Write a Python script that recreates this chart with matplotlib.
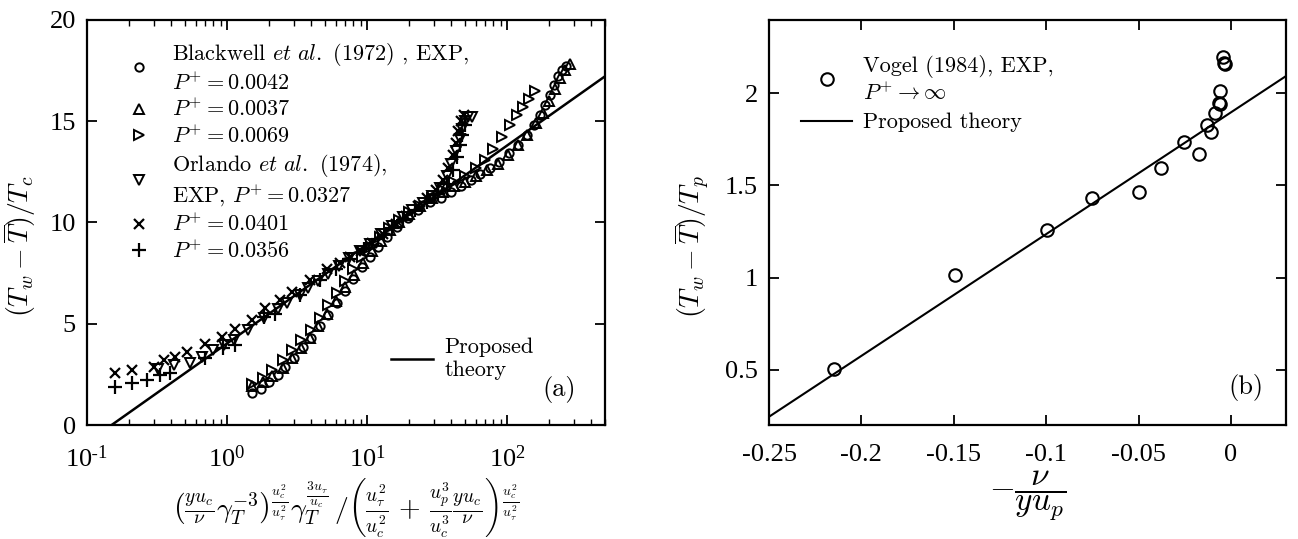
import math
import matplotlib
matplotlib.use("Agg")
import matplotlib.pyplot as plt
from matplotlib.ticker import FuncFormatter, LogLocator, NullFormatter, MultipleLocator
from matplotlib.font_manager import FontProperties

plt.rcParams.update({
    "font.family": "Liberation Serif",
    "mathtext.fontset": "cm",
    "axes.unicode_minus": False,
    "xtick.direction": "in",
    "ytick.direction": "in",
    "xtick.top": True,
    "ytick.right": True,
    "axes.linewidth": 1.6,
    "xtick.major.width": 1.3,
    "ytick.major.width": 1.3,
    "xtick.minor.width": 1.0,
    "xtick.major.size": 7,
    "ytick.major.size": 7,
    "xtick.minor.size": 4,
})

# ---------------- panel (a): Blackwell et al. (1972) and Orlando et al. (1974)
bw42_x = [1.5, 1.75, 2.0, 2.3, 2.6, 3.0, 3.5, 4.0, 4.6, 5.3, 6.1, 7.0, 8.0, 9.2, 10.5, 12.0,
          14.0, 16.5, 19.5, 23, 28, 34, 40, 47, 55, 64, 75, 88, 103, 120, 138, 155, 172, 188,
          203, 218, 232, 248, 265]
bw42_y = [1.6, 1.8, 2.1, 2.45, 2.85, 3.3, 3.85, 4.3, 4.9, 5.45, 6.0, 6.6, 7.2, 7.8, 8.3, 8.8,
          9.3, 9.75, 10.2, 10.6, 11.0, 11.2, 11.5, 11.8, 12.1, 12.4, 12.7, 13.0, 13.4, 13.8,
          14.3, 14.8, 15.3, 15.8, 16.3, 16.8, 17.2, 17.5, 17.7]

bw37_x = [1.5, 1.8, 2.1, 2.5, 2.9, 3.4, 3.9, 4.5, 5.2, 6.0, 7.0, 8.1, 9.3, 10.8, 12.5, 14.5,
          17, 20, 24, 29, 35, 42, 50, 60, 72, 86, 102, 120, 140, 160, 180, 200, 220, 240, 260, 280]
bw37_y = [1.9, 2.1, 2.4, 2.8, 3.3, 3.8, 4.3, 4.9, 5.5, 6.1, 6.8, 7.4, 8.0, 8.6, 9.1, 9.6,
          10.0, 10.4, 10.8, 11.2, 11.5, 11.8, 12.0, 12.3, 12.6, 12.9, 13.3, 13.8, 14.3, 14.9,
          15.4, 16.0, 16.6, 17.1, 17.5, 17.8]

bw69_x = [1.5, 1.8, 2.1, 2.5, 2.9, 3.4, 4.0, 4.6, 5.3, 6.1, 7.0, 8.0, 9.2, 10.6, 12.3, 14.3,
          17, 20, 24, 29, 35, 42, 50, 60, 70, 80, 92, 105, 118, 130, 143, 158]
bw69_y = [2.0, 2.3, 2.7, 3.2, 3.7, 4.2, 4.7, 5.3, 5.9, 6.5, 7.1, 7.7, 8.3, 8.8, 9.3, 9.7,
          10.1, 10.5, 10.8, 11.2, 11.6, 12.0, 12.3, 12.7, 13.1, 13.6, 14.2, 14.8, 15.3, 15.7,
          16.1, 16.5]

or327_x = [0.32, 0.42, 0.54, 0.66, 0.80, 0.95, 1.12, 1.42, 1.85, 2.3, 2.7, 3.3, 3.8, 4.5, 5.3,
           6.3, 7.5, 8.9, 10.5, 12.5, 15, 18, 21, 25, 29, 33, 37, 40, 43, 46, 48, 50, 53, 56]
or327_y = [2.75, 2.95, 3.05, 3.35, 3.7, 3.95, 4.2, 4.7, 5.3, 5.7, 6.0, 6.4, 6.75, 7.1, 7.45,
           7.85, 8.25, 8.6, 8.95, 9.4, 9.8, 10.25, 10.6, 10.95, 11.3, 11.7, 12.3, 12.9, 13.5,
           14.1, 14.6, 15.0, 15.2, 15.2]

or401_x = [0.158, 0.209, 0.30, 0.355, 0.425, 0.52, 0.70, 0.92, 1.14, 1.5, 1.87, 2.4, 2.9, 3.9,
           5.15, 6.4, 7.6, 9.0, 10.8, 13, 16, 19, 23, 27, 31, 35, 38, 41, 43, 45, 47, 49]
or401_y = [2.55, 2.72, 2.85, 3.2, 3.37, 3.6, 4.0, 4.35, 4.76, 5.17, 5.75, 6.16, 6.57, 7.14,
           7.72, 8.0, 8.3, 8.6, 9.0, 9.4, 9.9, 10.3, 10.8, 11.2, 11.6, 12.1, 12.7, 13.3, 13.9,
           14.5, 15.0, 15.3]

or356_x = [0.158, 0.209, 0.27, 0.33, 0.39, 0.70, 0.94, 1.14, 1.85, 2.2, 3.32, 4.62, 6.0, 7.5,
           9.5, 12, 15, 18, 22, 27, 32, 37, 41, 44, 46, 48, 50]
or356_y = [1.89, 2.05, 2.22, 2.46, 2.55, 3.33, 3.78, 3.94, 5.34, 5.5, 6.4, 7.14, 7.7, 8.2,
           8.7, 9.2, 9.7, 10.1, 10.6, 11.0, 11.4, 11.9, 12.6, 13.2, 13.8, 14.3, 14.8]

theory_a_x = [0.15, 500]
theory_a_y = [0.0, 17.2]

# ---------------- panel (b): Vogel (1984)
vogel_x = [-0.2148, -0.1495, -0.0996, -0.0752, -0.0499, -0.0380, -0.0253, -0.0172, -0.0128,
           -0.0106, -0.0084, -0.0066, -0.0060, -0.0059, -0.0044, -0.0037, -0.0033]
vogel_y = [0.506, 1.016, 1.261, 1.434, 1.467, 1.597, 1.735, 1.673, 1.829, 1.792, 1.896,
           1.950, 1.940, 2.015, 2.195, 2.167, 2.158]

theory_b_x = [-0.25, 0.03]
theory_b_y = [0.245, 2.095]

fig = plt.figure(figsize=(12.98, 5.39), dpi=100)
ax1 = fig.add_axes([0.067, 0.2115, 0.399, 0.752])
ax2 = fig.add_axes([0.5925, 0.2115, 0.3985, 0.752])

leg_font = FontProperties(family="cmr10", size=16)
tag_font = FontProperties(family="cmr10", size=19)

mk = dict(linestyle="none", markerfacecolor="none", markeredgecolor="black", markeredgewidth=1.4)
h1, = ax1.plot(bw42_x, bw42_y, marker="o", markersize=6, **mk)
h2, = ax1.plot(bw37_x, bw37_y, marker="^", markersize=7.5, **mk)
h3, = ax1.plot(bw69_x, bw69_y, marker=">", markersize=7.5, **mk)
h4, = ax1.plot(or327_x, or327_y, marker="v", markersize=7.5, **mk)
h5, = ax1.plot(or401_x, or401_y, marker="x", markersize=7, linestyle="none", color="black", markeredgewidth=1.6)
h6, = ax1.plot(or356_x, or356_y, marker="+", markersize=10, linestyle="none", color="black", markeredgewidth=1.6)
ht, = ax1.plot(theory_a_x, theory_a_y, color="black", linewidth=1.8)

ax1.set_xscale("log")
ax1.set_xlim(0.1, 500)
ax1.set_ylim(0, 20)
ax1.set_yticks([0, 5, 10, 15, 20])
ax1.xaxis.set_major_locator(LogLocator(base=10, numticks=10))
ax1.xaxis.set_minor_locator(LogLocator(base=10, subs=range(2, 10), numticks=10))
ax1.xaxis.set_minor_formatter(NullFormatter())


def log_label(v, pos):
    e = int(round(math.log10(v)))
    if e < 0:
        return r"$\mathregular{10^{\text{-}%d}}$" % (-e)
    return r"$\mathregular{10^{%d}}$" % e


ax1.xaxis.set_major_formatter(FuncFormatter(log_label))
ax1.tick_params(axis="y", labelsize=19, pad=8)
ax1.tick_params(axis="x", labelsize=19, pad=15)
ax1.set_ylabel(r"$(T_w-\overline{T})/T_c$", fontsize=20)
ax1.yaxis.set_label_coords(-0.094, 0.44)
ax1.set_xlabel(r"$\left(\frac{y u_c}{\nu}\gamma_T^{-3}\right)^{\frac{u_c^2}{u_\tau^2}}"
               r"\gamma_T^{\frac{3u_\tau}{u_c}}\,/\left(\frac{u_\tau^2}{u_c^2}\,+\,"
               r"\frac{u_p^3}{u_c^3}\frac{y u_c}{\nu}\right)^{\frac{u_c^2}{u_\tau^2}}$",
               fontsize=20, labelpad=3)

lg1 = ax1.legend([h1, h2, h3, h4, h5, h6],
                 ["Blackwell $\\mathit{et\\ al.}$ (1972) , EXP,\n$P^{+}=0.0042$",
                  "$P^{+}=0.0037$", "$P^{+}=0.0069$",
                  "Orlando $\\mathit{et\\ al.}$ (1974),\nEXP, $P^{+}=0.0327$",
                  "$P^{+}=0.0401$", "$P^{+}=0.0356$"],
                 loc="upper left", bbox_to_anchor=(0.057, 0.97), frameon=False, prop=leg_font,
                 handlelength=1.2, handletextpad=0.9, labelspacing=0.2, borderaxespad=0)
ax1.add_artist(lg1)
ax1.legend([ht], ["Proposed\ntheory"], loc="lower left", bbox_to_anchor=(0.57, 0.09),
           frameon=False, prop=leg_font, handlelength=1.9, handletextpad=0.5, borderaxespad=0)
ax1.text(0.945, 0.055, "(a)", transform=ax1.transAxes, ha="right", va="bottom",
         fontproperties=tag_font)

# panel (b)
hv, = ax2.plot(vogel_x, vogel_y, marker="o", markersize=9, linestyle="none",
               markerfacecolor="none", markeredgecolor="black", markeredgewidth=1.5)
hb, = ax2.plot(theory_b_x, theory_b_y, color="black", linewidth=1.5)
ax2.set_xlim(-0.25, 0.03)
ax2.set_ylim(0.2, 2.4)
ax2.xaxis.set_major_locator(MultipleLocator(0.05))
ax2.set_yticks([0.5, 1.0, 1.5, 2.0])
ax2.xaxis.set_major_formatter(FuncFormatter(lambda v, p: "%g" % round(v, 3)))
ax2.yaxis.set_major_formatter(FuncFormatter(lambda v, p: "%g" % round(v, 3)))
ax2.tick_params(axis="y", labelsize=19, pad=8)
ax2.tick_params(axis="x", labelsize=19, pad=14)
ax2.set_ylabel(r"$(T_w-\overline{T})/T_p$", fontsize=20)
ax2.yaxis.set_label_coords(-0.11, 0.44)
ax2.set_xlabel(r"$-\dfrac{\nu}{y u_p}$", fontsize=24, labelpad=2)
ax2.legend([hv, hb], ["Vogel (1984), EXP,\n$P^{+}\\rightarrow\\infty$", "Proposed theory"],
           loc="upper left", bbox_to_anchor=(0.045, 0.935), frameon=False, prop=leg_font,
           handlelength=2.3, handletextpad=0.5, labelspacing=0.4, borderaxespad=0)
ax2.text(0.955, 0.06, "(b)", transform=ax2.transAxes, ha="right", va="bottom",
         fontproperties=tag_font)

fig.savefig("out.png", dpi=100)
